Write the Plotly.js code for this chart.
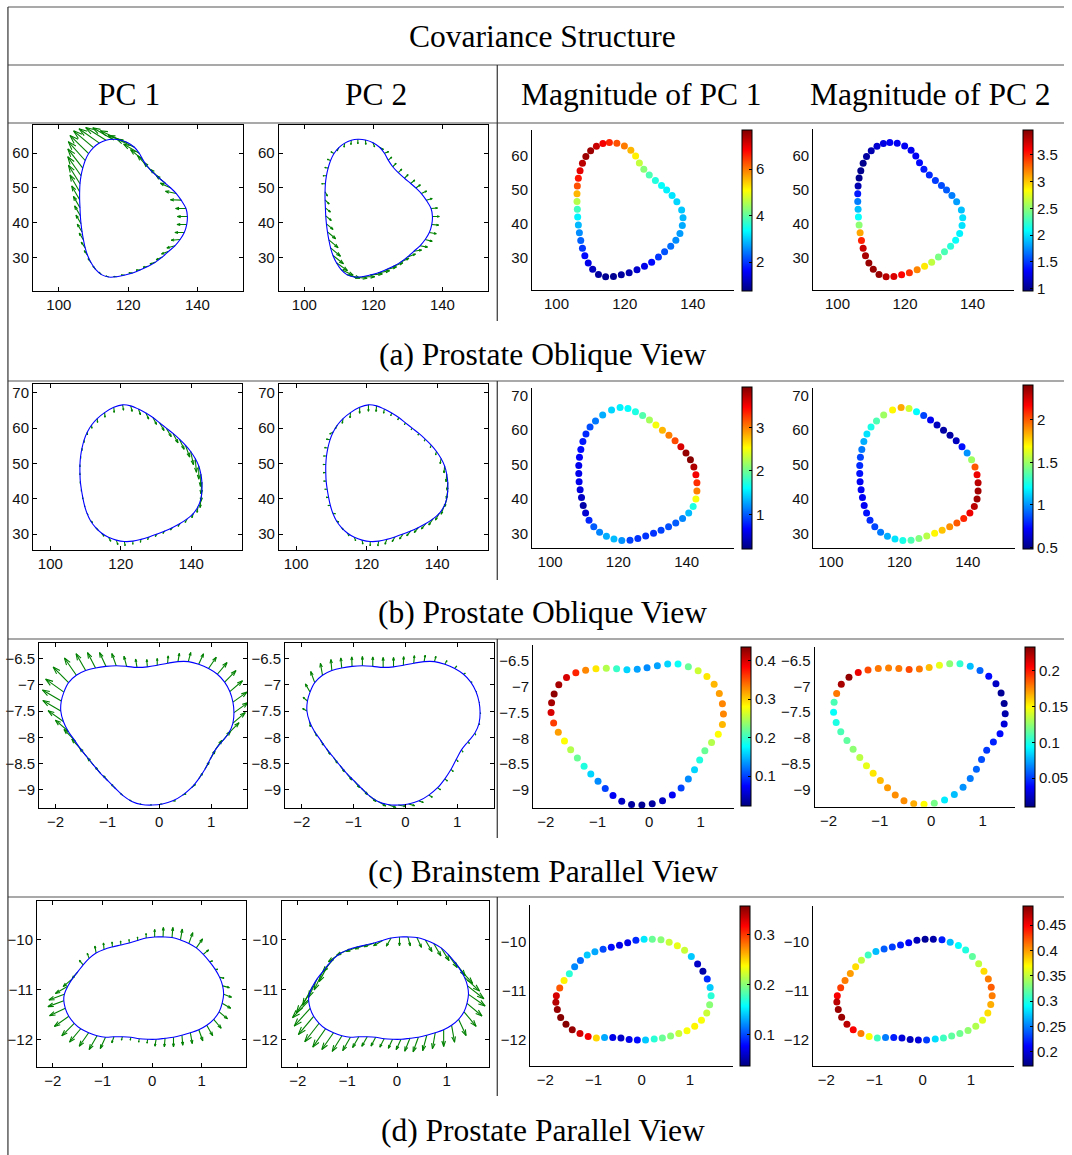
<!DOCTYPE html>
<html><head><meta charset="utf-8">
<script src="https://cdn.plot.ly/plotly-3.0.1.min.js"></script>
<style>html,body{margin:0;padding:0;background:#fff}#chart{width:1072px;height:1155px}</style>
</head><body><div id="chart"></div>
<script>
// ---------- text ----------
const tableTitle = "Covariance Structure";
const colHeaders = ["PC 1", "PC 2", "Magnitude of PC 1", "Magnitude of PC 2"];
const rowCaptions = ["(a) Prostate Oblique View", "(b) Prostate Oblique View", "(c) Brainstem Parallel View", "(d) Prostate Parallel View"];

// ---------- row (a) ----------
const aX = [115.5,117.7,119.9,121.8,123.2,124.3,125.6,127.2,129.0,130.8,132.3,133.9,135.3,136.7,137.1,136.9,136.2,135.0,133.5,131.7,129.9,127.9,125.8,123.6,121.3,119.0,116.7,114.4,112.3,110.6,109.3,108.3,107.6,107.1,106.7,106.4,106.2,106.1,106.0,106.0,106.1,106.4,106.9,107.6,108.6,110.0,111.7,113.6];
const aY = [64.0,63.8,63.0,61.7,60.0,58.0,56.1,54.4,52.8,51.3,50.0,48.4,46.5,44.1,41.8,39.5,37.2,35.2,33.4,31.8,30.2,28.7,27.5,26.5,25.6,25.0,24.5,24.4,25.1,26.6,28.5,30.6,32.8,35.1,37.4,39.7,42.0,44.3,46.6,48.9,51.2,53.5,55.7,57.9,59.9,61.6,62.9,63.7];
const aM1 = [6.6,6.3,6.0,5.6,5.2,4.7,4.3,3.9,3.6,3.4,3.3,3.2,3.1,3.0,2.9,2.8,2.7,2.6,2.4,2.2,2.0,1.7,1.5,1.3,1.1,1.0,0.9,0.9,1.0,1.2,1.5,1.7,2.0,2.3,2.6,2.9,3.3,3.8,4.6,5.6,6.3,6.7,7.0,7.3,7.5,7.5,7.2,6.9];
const aA1 = [150,155,160,155,150,140,132,132,135,140,155,168,178,180,180,180,180,185,195,200,205,200,190,185,180,180,175,160,135,128,125,125,125,122,122,120,120,120,120,120,122,125,128,132,136,140,145,148];
const aM2 = [1.3,1.3,1.3,1.3,1.3,1.35,1.4,1.45,1.5,1.55,1.6,1.7,1.8,1.9,2.0,2.0,2.05,2.1,2.2,2.3,2.45,2.65,2.9,3.2,3.45,3.6,3.7,3.8,3.9,3.9,3.9,3.85,3.75,3.5,3.1,2.5,2.1,1.9,1.7,1.4,1.1,1.0,1.0,1.0,1.05,1.1,1.2,1.25];
const aA2 = [-90,-85,-70,-30,20,40,45,45,45,40,35,25,15,5,0,-5,-10,-15,-10,10,20,25,20,15,10,5,0,-5,-15,-25,-35,-38,-40,-40,-40,-40,-40,-40,-45,-60,180,180,170,160,150,-120,-100,-95];
const aXTicks = [100,120,140];
const aYTicks = [30,40,50,60];
const aC1Ticks = [2,4,6];
const aC2Ticks = [1,1.5,2,2.5,3,3.5];
const aC1Range = [0.78,7.7];
const aC2Range = [0.955,3.97];

// ---------- row (b) ----------
const bX = [120.5,122.8,125.0,127.1,129.1,131.0,132.9,134.8,136.6,138.3,139.8,141.1,142.1,142.7,143.0,143.0,142.7,141.9,140.6,138.8,136.8,134.7,132.5,130.3,128.0,125.7,123.4,121.0,118.7,116.5,114.5,112.8,111.4,110.4,109.7,109.2,108.8,108.5,108.4,108.4,108.6,109.0,109.6,110.5,111.7,113.3,115.4,118.0];
const bY = [66.6,66.3,65.4,64.3,63.0,61.5,60.0,58.5,56.9,55.2,53.4,51.4,49.3,47.0,44.7,42.3,40.0,37.8,35.9,34.3,33.0,31.9,30.9,30.0,29.2,28.5,28.0,27.9,28.3,29.1,30.3,31.9,33.8,35.9,38.1,40.4,42.7,45.0,47.4,49.7,52.1,54.4,56.7,58.9,60.9,62.7,64.4,65.9];
const bM1 = [1.55,1.6,1.7,1.9,2.2,2.5,2.8,3.0,3.2,3.6,3.85,3.9,3.75,3.5,3.3,3.0,2.5,1.7,1.35,1.15,1.0,0.95,0.9,0.85,0.85,0.85,0.9,1.2,1.35,1.3,1.15,1.0,0.8,0.5,0.35,0.45,0.55,0.6,0.6,0.6,0.65,0.7,0.75,0.8,0.95,1.1,1.3,1.45];
const bA1 = [-80,-75,-70,-65,-62,-60,-60,-62,-65,-70,-78,-85,-90,-92,-95,-95,-95,-100,-110,-120,-125,-130,-130,-130,-120,-100,-90,-80,-70,-60,-50,-45,-40,-60,-80,-90,-90,-90,-90,-90,-90,-90,-90,-90,-85,-85,-85,-85];
const bM2 = [1.85,1.6,1.2,0.85,0.7,0.6,0.55,0.55,0.6,0.75,1.0,1.5,2.0,2.2,2.3,2.35,2.35,2.3,2.2,2.1,2.0,1.9,1.8,1.7,1.55,1.45,1.35,1.25,1.15,1.05,0.95,0.85,0.8,0.75,0.7,0.7,0.7,0.7,0.75,0.8,0.85,0.95,1.05,1.15,1.25,1.35,1.5,1.7];
const bA2 = [-90,-95,-100,-110,-115,-120,-120,-120,-115,-110,-105,-100,-95,-95,-95,-100,-105,-110,-120,-125,-130,-130,-130,-125,-120,-110,-100,-90,-80,-70,-60,-50,-30,-10,180,180,180,180,180,180,180,175,170,-150,-120,-100,-95,-90];
const bXTicks = [100,120,140];
const bYTicks = [30,40,50,60,70];
const bC1Ticks = [1,2,3];
const bC2Ticks = [0.5,1,1.5,2];
const bC1Range = [0.2,3.93];
const bC2Range = [0.48,2.41];

// ---------- row (c) ----------
const cX = [-1.84,-1.75,-1.60,-1.42,-1.23,-1.03,-0.83,-0.63,-0.43,-0.23,-0.04,0.16,0.36,0.56,0.76,0.95,1.12,1.26,1.36,1.42,1.44,1.42,1.34,1.21,1.08,0.98,0.88,0.76,0.62,0.45,0.26,0.06,-0.14,-0.34,-0.53,-0.70,-0.85,-0.99,-1.13,-1.26,-1.39,-1.52,-1.64,-1.76,-1.85,-1.90,-1.89];
const cY = [-7.14,-6.96,-6.82,-6.73,-6.68,-6.65,-6.64,-6.65,-6.67,-6.66,-6.63,-6.59,-6.56,-6.56,-6.61,-6.69,-6.80,-6.95,-7.13,-7.33,-7.53,-7.73,-7.92,-8.08,-8.24,-8.42,-8.61,-8.79,-8.96,-9.10,-9.21,-9.27,-9.29,-9.28,-9.22,-9.11,-8.97,-8.83,-8.69,-8.54,-8.38,-8.22,-8.05,-7.88,-7.70,-7.50,-7.31];
const cM1 = [0.43,0.42,0.40,0.37,0.33,0.29,0.25,0.2,0.16,0.14,0.13,0.14,0.16,0.18,0.22,0.26,0.29,0.31,0.32,0.33,0.33,0.31,0.28,0.25,0.22,0.19,0.16,0.13,0.1,0.07,0.05,0.035,0.03,0.035,0.05,0.07,0.1,0.13,0.16,0.19,0.22,0.25,0.28,0.32,0.36,0.4,0.42];
const cA1 = [145,135,125,120,118,115,110,105,100,95,90,85,80,75,65,55,50,45,40,35,35,40,45,50,55,60,60,55,40,20,0,180,170,160,150,140,135,132,130,130,130,132,135,140,145,150,150];
const cM2 = [0.18,0.225,0.23,0.21,0.19,0.18,0.178,0.18,0.19,0.18,0.165,0.145,0.125,0.105,0.08,0.06,0.04,0.025,0.015,0.015,0.02,0.03,0.04,0.045,0.05,0.055,0.06,0.065,0.07,0.08,0.09,0.12,0.15,0.168,0.175,0.175,0.172,0.165,0.155,0.145,0.135,0.125,0.115,0.11,0.1,0.095,0.11];
const cA2 = [120,110,100,95,95,92,90,90,90,90,88,85,80,75,60,50,30,0,-20,-40,-60,-70,-70,-60,-55,-50,-45,-40,-35,-30,-20,-15,-10,-20,-30,-40,-45,-50,-52,-54,-55,-57,-60,-62,-80,150,140];
const cXTicks = [-2,-1,0,1];
const cYTicks = [-9,-8.5,-8,-7.5,-7,-6.5];
const cC1Ticks = [0.1,0.2,0.3,0.4];
const cC2Ticks = [0.05,0.1,0.15,0.2];
const cC1Range = [0.022,0.436];
const cC2Range = [0.010,0.234];

// ---------- row (d) ----------
const dX = [-1.77,-1.70,-1.61,-1.50,-1.39,-1.27,-1.13,-0.97,-0.80,-0.63,-0.46,-0.29,-0.12,0.05,0.22,0.40,0.57,0.74,0.89,1.03,1.16,1.27,1.36,1.42,1.44,1.41,1.35,1.24,1.10,0.94,0.77,0.60,0.43,0.26,0.08,-0.09,-0.26,-0.43,-0.60,-0.77,-0.94,-1.11,-1.28,-1.44,-1.57,-1.68,-1.75,-1.78];
const dY = [-11.10,-10.94,-10.79,-10.65,-10.51,-10.38,-10.27,-10.20,-10.15,-10.11,-10.07,-10.02,-9.97,-9.95,-9.95,-9.96,-10.01,-10.08,-10.17,-10.30,-10.45,-10.60,-10.76,-10.93,-11.10,-11.28,-11.45,-11.60,-11.72,-11.81,-11.87,-11.92,-11.96,-11.98,-12.00,-12.00,-11.99,-11.96,-11.95,-11.95,-11.96,-11.93,-11.87,-11.79,-11.68,-11.54,-11.38,-11.23];
const dM1 = [0.33,0.29,0.24,0.17,0.12,0.11,0.14,0.13,0.10,0.08,0.07,0.07,0.09,0.15,0.19,0.2,0.22,0.23,0.22,0.14,0.06,0.05,0.09,0.14,0.17,0.2,0.22,0.235,0.24,0.235,0.22,0.2,0.19,0.17,0.14,0.08,0.07,0.06,0.07,0.13,0.25,0.32,0.33,0.35,0.355,0.355,0.35,0.34];
const dA1 = [-160,-150,-140,-130,130,110,100,95,95,95,95,95,92,90,88,85,80,70,55,40,20,0,-10,-15,-20,-30,-40,-50,-60,-70,-80,-85,-90,-95,-100,-100,-100,-100,-105,-110,-115,-120,-125,-130,-135,-145,-155,-160];
const dM2 = [0.45,0.43,0.41,0.40,0.38,0.35,0.31,0.27,0.24,0.23,0.22,0.21,0.19,0.18,0.185,0.22,0.27,0.29,0.3,0.32,0.35,0.38,0.41,0.42,0.41,0.395,0.38,0.36,0.345,0.335,0.325,0.32,0.31,0.28,0.23,0.2,0.19,0.2,0.22,0.25,0.31,0.37,0.41,0.45,0.47,0.48,0.48,0.47];
const dA2 = [-125,-118,-115,-115,-118,-130,-145,-155,-158,-160,-160,-150,-120,-90,-75,-65,-60,-60,-58,-55,-52,-48,-42,-38,-35,-40,-50,-65,-80,-90,-100,-105,-110,-112,-115,-115,-117,-118,-120,-120,-120,-122,-125,-125,-128,-130,-132,-134];
const dXTicks = [-2,-1,0,1];
const dYTicks = [-12,-11,-10];
const dC1Ticks = [0.1,0.2,0.3];
const dC2Ticks = [0.2,0.25,0.3,0.35,0.4,0.45];
const dC1Range = [0.037,0.357];
const dC2Range = [0.172,0.488];

// ---------- layout geometry (pixels) ----------
const W = 1072, H = 1155;
const PX = v => v / W, PY = v => 1 - v / H;
const JET = [[0,'#000080'],[0.125,'#0000ff'],[0.375,'#00ffff'],[0.625,'#ffff00'],[0.875,'#ff0000'],[1,'#800000']];
const TICKFONT = {family:'Liberation Sans, Arial, sans-serif', size:15, color:'#111'};

const rows = [
 {X:aX,Y:aY,M1:aM1,M2:aM2,A1:aA1,A2:aA2,xt:aXTicks,yt:aYTicks,ct:[aC1Ticks,aC2Ticks],cr:[aC1Range,aC2Range],
  box:[[33.3,245,125,291],[280.7,491.7,125,291],[536,740,130,290],[819.3,1022,129.3,290]],
  rng:[[[92.55,153.2],[20.4,68.1]],[[92.55,153.2],[20.4,68.1]],[[92.8,152.2],[20.5,67.7]],[[92.8,152.4],[20.5,67.9]]],
  cb:[[747.7,129.3,290.7],[1030.7,130,290.7]]},
 {X:bX,Y:bY,M1:bM1,M2:bM2,A1:bA1,A2:bA2,xt:bXTicks,yt:bYTicks,ct:[bC1Ticks,bC2Ticks],cr:[bC1Range,bC2Range],
  box:[[33.3,244.3,384,550],[281,492,384,550],[536,740,388.3,547.7],[819,1023,388.3,547.7]],
  rng:[[[95.1,154.5],[25.5,72.5]],[[95.1,154.5],[25.5,72.5]],[[94.7,154],[25.8,72.2]],[[94.7,153.9],[25.8,72.2]]],
  cb:[[747.3,387.3,549],[1030.7,385,549]]},
 {X:cX,Y:cY,M1:cM1,M2:cM2,A1:cA1,A2:cA2,xt:cXTicks,yt:cYTicks,ct:[cC1Ticks,cC2Ticks],cr:[cC1Range,cC2Range],
  box:[[39.3,249.3,642.7,807.7],[287.3,497.3,642.7,807.7],[537,740,645,808],[820.7,1023,646.7,806.7]],
  rng:[[[-2.32,1.70],[-9.34,-6.2]],[[-2.32,1.70],[-9.34,-6.2]],[[-2.25,1.654],[-9.35,-6.19]],[[-2.27,1.638],[-9.338,-6.228]]],
  cb:[[747,647,806],[1032.3,646.7,806.7]]},
 {X:dX,Y:dY,M1:dM1,M2:dM2,A1:dA1,A2:dA2,xt:dXTicks,yt:dYTicks,ct:[dC1Ticks,dC2Ticks],cr:[dC1Range,dC2Range],
  box:[[37.3,248.3,901,1066.7],[284,492.7,901,1066.7],[534.3,738.3,905,1066],[819.3,1022,905.7,1066]],
  rng:[[[-2.32,1.9],[-12.55,-9.23]],[[-2.32,1.854],[-12.55,-9.23]],[[-2.31,1.89],[-12.53,-9.25]],[[-2.27,1.9],[-12.53,-9.268]]],
  cb:[[746,905.7,1066],[1030.7,905.7,1066]]}
];

const traces = [];
const layout = {
  width: W, height: H, margin:{l:0,r:0,t:0,b:0}, paper_bgcolor:'#fff', plot_bgcolor:'rgba(0,0,0,0)',
  showlegend:false, shapes:[], annotations:[]
};

function quiverTrace(X, Y, M, A, xa, ya) {
  const xs = [], ys = [];
  const alpha = 0.33, beta = 0.33;
  for (let i = 0; i < X.length; i++) {
    const u = M[i] * Math.cos(A[i] * Math.PI / 180);
    const v = M[i] * Math.sin(A[i] * Math.PI / 180);
    const x1 = X[i] + u, y1 = Y[i] + v;
    xs.push(X[i], x1, null); ys.push(Y[i], y1, null);
    xs.push(x1 - alpha * (u + beta * v), x1, x1 - alpha * (u - beta * v), null);
    ys.push(y1 - alpha * (v - beta * u), y1, y1 - alpha * (v + beta * u), null);
  }
  return {type:'scatter', mode:'lines', x:xs, y:ys, xaxis:xa, yaxis:ya, hoverinfo:'skip',
          line:{color:'#008000', width:1.1}, connectgaps:false};
}
function contourTrace(X, Y, xa, ya) {
  return {type:'scatter', mode:'lines', x:X.concat([X[0]]), y:Y.concat([Y[0]]), xaxis:xa, yaxis:ya,
          hoverinfo:'skip', line:{color:'#0000ff', width:1.1, shape:'spline', smoothing:1}};
}
function dotsTrace(X, Y, M, range, ticks, cb, xa, ya) {
  return {type:'scatter', mode:'markers', x:X, y:Y, xaxis:xa, yaxis:ya, hoverinfo:'skip',
    marker:{size:7, color:M, cmin:range[0], cmax:range[1], colorscale:JET, showscale:true,
      colorbar:{x:PX(cb[0]), xanchor:'left', y:PY((cb[1]+cb[2])/2), yanchor:'middle',
        len:(cb[2]-cb[1])/H, lenmode:'fraction', thickness:10, thicknessmode:'pixels',
        outlinewidth:1, outlinecolor:'#000', tickvals:ticks, ticks:'inside', ticklen:3, tickcolor:'#000',
        tickfont:TICKFONT, xpad:0, ypad:0}}};
}

rows.forEach((r, ri) => {
  for (let c = 0; c < 4; c++) {
    const k = ri * 4 + c + 1;
    const xa = 'x' + (k === 1 ? '' : k), ya = 'y' + (k === 1 ? '' : k);
    const xName = 'xaxis' + (k === 1 ? '' : k), yName = 'yaxis' + (k === 1 ? '' : k);
    const b = r.box[c], rg = r.rng[c];
    const boxed = c < 2;
    const common = {showgrid:false, zeroline:false, showline:true, linecolor:'#000', linewidth:1,
      tickfont:TICKFONT, fixedrange:true, ticks: boxed ? 'inside' : '', ticklen:4, tickcolor:'#000',
      mirror: boxed ? 'ticks' : false};
    layout[xName] = Object.assign({}, common, {domain:[PX(b[0]), PX(b[1])], range:rg[0], anchor:ya, tickvals:r.xt});
    layout[yName] = Object.assign({}, common, {domain:[PY(b[3]), PY(b[2])], range:rg[1], anchor:xa, tickvals:r.yt});
    if (c === 0) { traces.push(quiverTrace(r.X, r.Y, r.M1, r.A1, xa, ya)); traces.push(contourTrace(r.X, r.Y, xa, ya)); }
    if (c === 1) { traces.push(quiverTrace(r.X, r.Y, r.M2, r.A2, xa, ya)); traces.push(contourTrace(r.X, r.Y, xa, ya)); }
    if (c === 2) traces.push(dotsTrace(r.X, r.Y, r.M1, r.cr[0], r.ct[0], r.cb[0], xa, ya));
    if (c === 3) traces.push(dotsTrace(r.X, r.Y, r.M2, r.cr[1], r.ct[1], r.cb[1], xa, ya));
  }
});

// ---------- table lines ----------
function hline(y, x0, x1) { layout.shapes.push({type:'line', xref:'paper', yref:'paper', x0:PX(x0), x1:PX(x1), y0:PY(y), y1:PY(y), line:{color:'#555', width:1.2}}); }
function vline(x, y0, y1) { layout.shapes.push({type:'line', xref:'paper', yref:'paper', x0:PX(x), x1:PX(x), y0:PY(y0), y1:PY(y1), line:{color:'#333', width:1.2}}); }
hline(7, 8, 1072); hline(65, 8, 1072); hline(123, 8, 1072); hline(381, 8, 1072); hline(639, 8, 1072); hline(897, 8, 1072);
vline(8, 7, 1155);
vline(501, 65, 321); vline(501, 381, 580); vline(501, 639, 838); vline(501, 897, 1096);

// ---------- text ----------
const SERIF = {family:'Liberation Serif, Times New Roman, serif', size:31.5, color:'#000'};
function label(text, x, y) { layout.annotations.push({text:text, x:PX(x), y:PY(y), xref:'paper', yref:'paper', showarrow:false, xanchor:'center', yanchor:'middle', font:SERIF}); }
label(tableTitle, 547, 36);
[130, 379, 646, 937].forEach((x, i) => label(colHeaders[i], x, 95));
[354, 612, 871, 1130].forEach((y, i) => label(rowCaptions[i], 547, y));

Plotly.newPlot('chart', traces, layout, {staticPlot:true, displayModeBar:false});
</script>
</body></html>
